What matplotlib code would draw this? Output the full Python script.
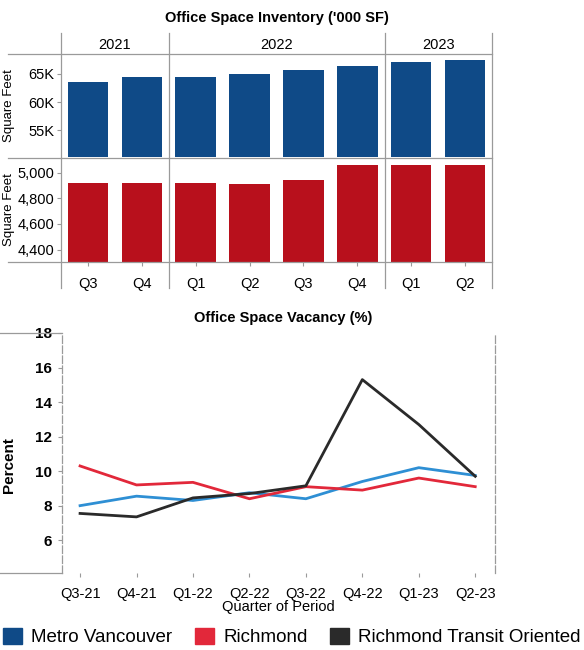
import matplotlib
matplotlib.use("Agg")
import matplotlib.pyplot as plt
from matplotlib.lines import Line2D
from matplotlib.patches import Patch

plt.rcParams["font.family"] = ["Liberation Sans", "DejaVu Sans"]

# data
quarters = ["Q3", "Q4", "Q1", "Q2", "Q3", "Q4", "Q1", "Q2"]
years = ["2021", "2022", "2023"]
year_spans = [(0, 2), (2, 6), (6, 8)]
metro_inventory = [63.6, 64.5, 64.5, 65.0, 65.6, 66.4, 67.1, 67.4]      # '000 SF (K)
richmond_inventory = [4917, 4922, 4922, 4911, 4940, 5058, 5060, 5060]

periods = ["Q3-21", "Q4-21", "Q1-22", "Q2-22", "Q3-22", "Q4-22", "Q1-23", "Q2-23"]
vac_metro = [8.0, 8.55, 8.3, 8.75, 8.4, 9.4, 10.2, 9.75]
vac_richmond = [10.3, 9.2, 9.35, 8.4, 9.1, 8.9, 9.6, 9.1]
vac_transit = [7.55, 7.35, 8.45, 8.7, 9.15, 15.3, 12.7, 9.7]

BAR_BLUE = "#0f4a87"
BAR_RED = "#b8101c"
LN_BLUE = "#2e8fd4"
LN_RED = "#e2283a"
LN_BLACK = "#2a2a2a"
GRID = "#9a9a9a"

fig = plt.figure(figsize=(5.84, 6.5), dpi=100)
W, H = 584, 650


def fx(px):
    return px / W


def fy(py):
    return 1 - py / H


L, R = 61, 492
x = list(range(len(quarters)))

# --- top: blue bars
ax1 = fig.add_axes([fx(L), fy(157), fx(R - L), (157 - 55) / H])
ax1.bar(x, metro_inventory, width=0.75, color=BAR_BLUE)
ax1.set_ylim(50.3, 68.3)
ax1.set_yticks([55, 60, 65])
ax1.set_yticklabels(["55K", "60K", "65K"])
ax1.set_xlim(-0.5, 7.5)
ax1.set_xticks([])

# --- middle: red bars
ax2 = fig.add_axes([fx(L), fy(262), fx(R - L), (262 - 158) / H])
ax2.bar(x, richmond_inventory, width=0.75, color=BAR_RED)
ax2.set_ylim(4303, 5113)
ax2.set_yticks([4400, 4600, 4800, 5000])
ax2.set_yticklabels(["4,400", "4,600", "4,800", "5,000"])
ax2.set_xlim(-0.5, 7.5)
ax2.set_xticks(x)
ax2.set_xticklabels(quarters)

for ax in (ax1, ax2):
    for s in ax.spines.values():
        s.set_visible(False)
    ax.tick_params(axis="y", length=3, color=GRID, labelsize=10.5, pad=2)
    ax.tick_params(axis="x", length=3, color=GRID, labelsize=10.5, pad=8)
    ax.set_ylabel("Square Feet", fontsize=9.5)
    ax.yaxis.set_label_coords(-(L - 15) / (R - L), 0.5)

# header row for years
axh = fig.add_axes([fx(L), fy(54), fx(R - L), (54 - 33) / H])
axh.set_xlim(-0.5, 7.5)
axh.set_ylim(0, 1)
axh.axis("off")
for yr, (a, b) in zip(years, year_spans):
    axh.text((a + b - 1) / 2, 0.45, yr, ha="center", va="center", fontsize=10.5)

fig.text(fx(277), fy(18), "Office Space Inventory ('000 SF)", ha="center",
         va="center", fontsize=10.5, fontweight="bold")

# table lines
for py in (54, 158, 262):
    fig.add_artist(Line2D([fx(8), fx(R)], [fy(py), fy(py)], color=GRID, lw=0.9))
for px in [L, 169, 385, R]:
    fig.add_artist(Line2D([fx(px), fx(px)], [fy(33), fy(288)], color=GRID, lw=0.9))

# --- bottom: vacancy lines
X0, X1 = 62, 495
ax3 = fig.add_axes([fx(X0), fy(573), fx(X1 - X0), (573 - 333) / H])
xi = list(range(len(periods)))
ax3.plot(xi, vac_metro, color=LN_BLUE, lw=2.0, label="Metro Vancouver")
ax3.plot(xi, vac_richmond, color=LN_RED, lw=2.0, label="Richmond")
ax3.plot(xi, vac_transit, color=LN_BLACK, lw=2.0, label="Richmond Transit Oriented")
ax3.set_xlim(-0.32, 7.35)
ax3.set_ylim(4.1, 18.0)
ax3.set_yticks([6, 8, 10, 12, 14, 16, 18])
ax3.set_xticks(xi)
ax3.set_xticklabels(periods)
ax3.tick_params(axis="y", length=3, color=GRID, labelsize=11, pad=4)
ax3.tick_params(axis="x", length=3, color=GRID, labelsize=10.5, pad=7)
for lab in ax3.get_yticklabels():
    lab.set_fontweight("bold")
for k in ("top", "bottom"):
    ax3.spines[k].set_visible(False)
for k in ("left", "right"):
    ax3.spines[k].set_color(GRID)
    ax3.spines[k].set_linestyle((0, (6, 2)))
    ax3.spines[k].set_linewidth(0.9)
ax3.set_ylabel("Percent", fontsize=11, fontweight="bold")
ax3.yaxis.set_label_coords(-(X0 - 16) / (X1 - X0), 0.45)
ax3.set_xlabel("Quarter of Period", fontsize=10.5, labelpad=-1)

for py in (333, 573):
    fig.add_artist(Line2D([fx(0), fx(X0)], [fy(py), fy(py)], color=GRID, lw=0.9))

fig.text(fx(283), fy(318), "Office Space Vacancy (%)", ha="center", va="center",
         fontsize=10.5, fontweight="bold")

handles = [Patch(color=BAR_BLUE, label="Metro Vancouver"),
           Patch(color=LN_RED, label="Richmond"),
           Patch(color=LN_BLACK, label="Richmond Transit Oriented")]
fig.legend(handles=handles, loc="center", bbox_to_anchor=(0.5, fy(637)), ncol=3,
           frameon=False, fontsize=13.5, handlelength=1.0, handleheight=1.0,
           handletextpad=0.5, columnspacing=1.2, borderaxespad=0, borderpad=0)

fig.savefig("out.png", dpi=100)
